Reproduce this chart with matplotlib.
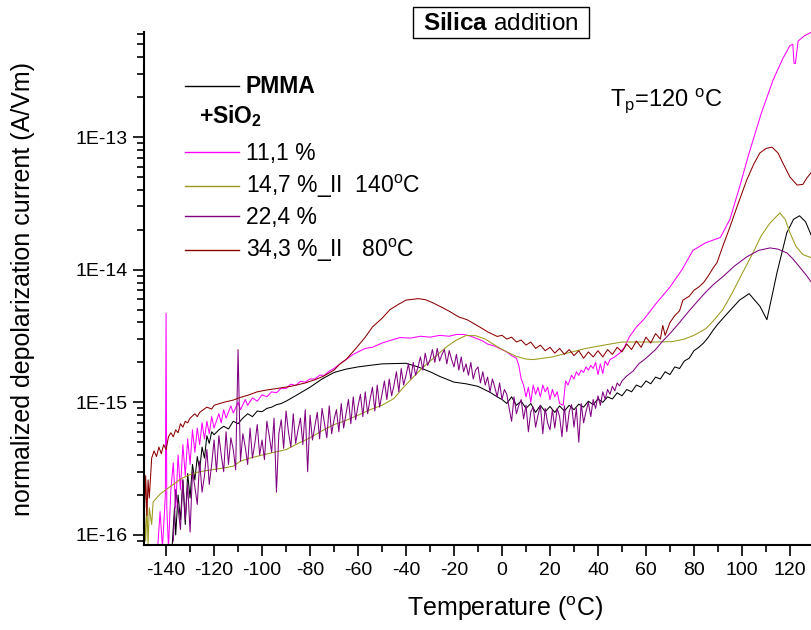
import numpy as np
import matplotlib
matplotlib.use("Agg")
import matplotlib.pyplot as plt
from matplotlib.lines import Line2D
from matplotlib.patches import Rectangle
from matplotlib.ticker import MultipleLocator, LogLocator, NullFormatter

plt.rcParams['font.family'] = ['Liberation Sans', 'DejaVu Sans']
plt.rcParams['mathtext.fontset'] = 'custom'
plt.rcParams['mathtext.rm'] = 'Liberation Sans'
plt.rcParams['mathtext.it'] = 'Liberation Sans:italic'
plt.rcParams['mathtext.bf'] = 'Liberation Sans:bold'
plt.rcParams['axes.unicode_minus'] = False

# TSDC depolarization current, temperature (C) vs current (A/Vm)
pmma = [
    (-137.5, 8e-17), (-136.5, 1.6e-16), (-136, 1.0e-16), (-135, 2.0e-16), (-134, 1.3e-16),
    (-133, 2.6e-16), (-132, 1.2e-16), (-131, 2.9e-16), (-130, 1.9e-16), (-129, 3.4e-16),
    (-128, 2.6e-16), (-127, 3.9e-16), (-126, 3.1e-16), (-125, 4.6e-16), (-124, 3.8e-16),
    (-123, 5.6e-16), (-122, 4.9e-16), (-121, 6.0e-16), (-120, 5.7e-16), (-118, 6.2e-16),
    (-116, 6.6e-16), (-114, 6.3e-16), (-112, 7.2e-16), (-110, 6.9e-16), (-108, 7.6e-16),
    (-106, 8.2e-16), (-104, 7.8e-16), (-102, 8.6e-16), (-100, 8.5e-16), (-98, 9.0e-16),
    (-96, 9.2e-16), (-94, 9.6e-16), (-92, 9.8e-16), (-90, 1.02e-15), (-85, 1.15e-15),
    (-80, 1.3e-15), (-75, 1.5e-15), (-70, 1.68e-15), (-65, 1.78e-15), (-60, 1.85e-15),
    (-55, 1.9e-15), (-50, 1.95e-15), (-45, 1.96e-15), (-40, 1.97e-15), (-35, 1.85e-15),
    (-30, 1.7e-15), (-26, 1.57e-15), (-20, 1.42e-15), (-15, 1.38e-15), (-10, 1.32e-15),
    (-5, 1.19e-15), (-2, 1.1e-15), (0, 1.05e-15), (2, 0.98e-15), (4, 1.1e-15),
    (6, 0.95e-15), (8, 1.02e-15), (10, 0.9e-15), (12, 0.98e-15), (14, 0.84e-15),
    (16, 0.95e-15), (18, 0.85e-15), (20, 0.93e-15), (22, 0.84e-15), (24, 0.94e-15),
    (26, 0.86e-15), (28, 0.95e-15), (30, 0.88e-15), (32, 0.97e-15), (34, 0.92e-15),
    (36, 1.02e-15), (38, 0.96e-15), (40, 1.06e-15), (42, 1.0e-15), (44, 1.1e-15),
    (46, 1.06e-15), (48, 1.18e-15), (50, 1.12e-15), (52, 1.25e-15), (54, 1.2e-15),
    (56, 1.35e-15), (58, 1.3e-15), (60, 1.45e-15), (62, 1.38e-15), (64, 1.55e-15),
    (66, 1.5e-15), (68, 1.7e-15), (70, 1.62e-15), (72, 1.85e-15), (74, 1.8e-15),
    (76, 2.05e-15), (78, 2.15e-15), (80, 2.45e-15), (82, 2.6e-15), (84, 2.8e-15),
    (86, 3.1e-15), (88, 3.5e-15), (90, 3.9e-15), (94, 4.7e-15), (99, 5.9e-15),
    (103, 6.6e-15), (107.5, 5.3e-15), (110.4, 4.2e-15), (112.5, 6.3e-15), (114.6, 9.5e-15),
    (118.7, 1.9e-14), (121.5, 2.4e-14), (124, 2.55e-14), (126.5, 2.3e-14), (129, 1.8e-14),
    (131, 1.5e-14),
]

silica_11 = [
    (-143.5, 8e-17), (-142.5, 1.5e-16), (-141.5, 8e-17), (-140.3, 2.0e-16), (-140, 4.7e-15),
    (-139.7, 1.6e-16), (-139, 8e-17), (-138, 2.2e-16), (-137, 3.5e-16), (-136, 1.6e-16),
    (-135, 4.0e-16), (-134, 2.2e-16), (-133, 4.8e-16), (-132, 2.8e-16), (-131, 5.3e-16),
    (-130, 3.4e-16), (-129, 6.2e-16), (-128, 4.2e-16), (-127, 6.4e-16), (-126, 4.8e-16),
    (-125, 7.0e-16), (-124, 5.3e-16), (-123, 7.2e-16), (-122, 5.8e-16), (-121, 7.8e-16),
    (-120, 6.4e-16), (-118, 8.2e-16), (-117, 7.0e-16), (-116, 8.8e-16), (-115, 7.6e-16),
    (-113, 9.4e-16), (-112, 8.3e-16), (-110, 1.0e-15), (-109, 8.8e-16), (-107, 1.05e-15),
    (-106, 9.5e-16), (-104, 1.08e-15), (-102, 1.02e-15), (-100, 1.14e-15), (-98, 1.1e-15),
    (-96, 1.2e-15), (-94, 1.18e-15), (-92, 1.28e-15), (-90, 1.27e-15), (-88, 1.37e-15),
    (-86, 1.34e-15), (-84, 1.44e-15), (-82, 1.42e-15), (-80, 1.5e-15), (-78, 1.5e-15),
    (-76, 1.6e-15), (-74, 1.6e-15), (-72, 1.72e-15), (-70, 1.8e-15), (-67.5, 1.95e-15),
    (-65, 2.1e-15), (-62, 2.3e-15), (-60, 2.4e-15), (-57, 2.55e-15), (-54, 2.6e-15),
    (-50, 2.8e-15), (-46, 2.95e-15), (-42.5, 3.08e-15), (-38, 3.05e-15), (-34, 3.15e-15),
    (-30, 3.1e-15), (-26, 3.2e-15), (-22, 3.15e-15), (-19, 3.25e-15), (-16, 3.25e-15),
    (-13, 3.15e-15), (-10, 3.0e-15), (-8, 2.9e-15), (-6, 2.75e-15), (-3, 2.65e-15),
    (0, 2.5e-15), (2, 2.4e-15), (4, 2.25e-15), (6, 2.15e-15), (7, 1.9e-15),
    (8, 1.5e-15), (9, 1.35e-15), (10, 1.1e-15), (11, 1.3e-15), (12, 1.0e-15),
    (13, 1.35e-15), (14, 1.15e-15), (15, 1.3e-15), (16, 1.1e-15), (17, 1.35e-15),
    (18, 1.2e-15), (19, 1.3e-15), (20, 1.05e-15), (21, 1.25e-15), (22, 1.1e-15),
    (23, 1.2e-15), (24, 0.98e-15), (25.5, 0.95e-15), (26.5, 1.45e-15), (27.5, 1.35e-15),
    (29, 1.6e-15), (30, 1.5e-15), (31, 1.7e-15), (32, 1.6e-15), (33, 1.75e-15),
    (34, 1.68e-15), (35, 1.85e-15), (36, 1.75e-15), (37, 1.9e-15), (38, 1.8e-15),
    (39, 2.0e-15), (40, 1.62e-15), (41, 1.95e-15), (42, 1.65e-15), (43, 2.05e-15),
    (44, 1.9e-15), (45, 2.1e-15), (47, 2.2e-15), (49, 2.35e-15), (51, 2.6e-15),
    (53, 3.1e-15), (56, 3.7e-15), (59, 4.2e-15), (64, 5.5e-15), (70, 7.4e-15),
    (75, 1.0e-14), (79.6, 1.4e-14), (85, 1.6e-14), (91, 1.75e-14), (95, 2.4e-14),
    (99, 4.2e-14), (103, 7.6e-14), (108, 1.5e-13), (113, 2.7e-13), (117, 3.9e-13),
    (120, 4.9e-13), (121.2, 5.0e-13), (121.7, 3.6e-13), (122.3, 3.6e-13), (123.4, 5.3e-13),
    (126, 5.8e-13), (129, 6.2e-13), (131, 6.4e-13),
]

silica_14 = [
    (-149, 1.5e-16), (-148.5, 9e-17), (-148, 1.7e-16), (-147.5, 8.5e-17), (-147, 1.6e-16),
    (-146, 1.2e-16), (-145.4, 1.77e-16), (-144, 1.9e-16), (-142.5, 2.03e-16), (-140, 2.2e-16),
    (-137, 2.4e-16), (-134, 2.64e-16), (-130, 2.85e-16), (-126, 3.0e-16), (-121, 3.1e-16),
    (-116, 3.2e-16), (-112, 3.3e-16), (-109, 3.6e-16), (-105, 3.8e-16), (-100, 4.0e-16),
    (-95, 4.2e-16), (-90, 4.4e-16), (-85, 4.9e-16), (-80, 5.4e-16), (-75, 6.1e-16),
    (-70, 6.8e-16), (-65, 7.3e-16), (-60, 8.0e-16), (-55, 8.8e-16), (-50, 9.5e-16),
    (-45, 1.07e-15), (-41, 1.3e-15), (-37, 1.55e-15), (-33, 1.83e-15), (-28, 2.2e-15),
    (-23, 2.63e-15), (-19, 2.95e-15), (-15, 3.19e-15), (-11, 3.18e-15), (-7, 3.0e-15),
    (-2, 2.63e-15), (2, 2.4e-15), (6, 2.22e-15), (10, 2.12e-15), (13, 2.1e-15),
    (17, 2.15e-15), (21, 2.2e-15), (25, 2.3e-15), (30, 2.42e-15), (35, 2.55e-15),
    (40, 2.65e-15), (45, 2.75e-15), (50, 2.85e-15), (57, 2.85e-15), (64, 2.85e-15),
    (71, 2.87e-15), (76, 3.0e-15), (80, 3.2e-15), (85, 3.6e-15), (88, 4.1e-15),
    (92, 5.0e-15), (96, 6.7e-15), (100, 9.3e-15), (104.6, 1.34e-14), (108, 1.8e-14),
    (111.7, 2.25e-14), (115.8, 2.68e-14), (118, 2.4e-14), (120, 1.9e-14), (122.5, 1.5e-14),
    (125.4, 1.3e-14), (129, 1.23e-14), (131, 1.2e-14),
]

# 22,4 % sample: 1 C steps over the noisy range, then the smooth high-T part
silica_22_T = np.arange(-137, 51)
silica_22_I = [
    0.9e-16, 2.2e-16, 1.6e-16, 1.1e-16, 2.6e-16, 1.3e-16, 2.4e-16, 1.05e-16, 3.0e-16, 2.3e-16,
    1.7e-16, 3.6e-16, 2.1e-16, 2.8e-16, 4.4e-16, 2.4e-16, 3.4e-16, 5.2e-16, 3.0e-16, 5.6e-16,
    4.0e-16, 3.0e-16, 6.0e-16, 3.4e-16, 5.4e-16, 4.4e-16, 3.1e-16, 2.5e-15, 3.6e-16, 5.8e-16,
    4.6e-16, 3.4e-16, 6.4e-16, 3.8e-16, 4.9e-16, 6.8e-16, 4.0e-16, 5.2e-16, 3.7e-16, 7.2e-16,
    5.6e-16, 4.2e-16, 7.6e-16, 2.1e-16, 5.8e-16, 7.4e-16, 4.5e-16, 8.6e-16, 6.0e-16, 4.6e-16,
    8.2e-16, 4.9e-16, 6.2e-16, 7.6e-16, 4.8e-16, 8.8e-16, 3.0e-16, 8.0e-16, 5.2e-16, 6.6e-16,
    8.4e-16, 5.3e-16, 9.0e-16, 7.0e-16, 5.4e-16, 9.4e-16, 5.8e-16, 7.4e-16, 8.8e-16, 6.0e-16,
    9.8e-16, 6.4e-16, 8.2e-16, 1.05e-15, 6.9e-16, 1.1e-15, 7.4e-16, 9.4e-16, 1.15e-15, 7.8e-16,
    1.2e-15, 8.2e-16, 1.05e-15, 1.3e-15, 8.6e-16, 1.35e-15, 9.2e-16, 1.15e-15, 1.45e-15, 1.05e-15,
    1.5e-15, 1.12e-15, 1.35e-15, 1.7e-15, 1.2e-15, 1.8e-15, 1.35e-15, 1.6e-15, 1.95e-15, 1.5e-15,
    2.0e-15, 1.6e-15, 1.85e-15, 2.2e-15, 1.75e-15, 2.35e-15, 1.9e-15, 2.1e-15, 2.5e-15, 2.0e-15,
    2.55e-15, 2.05e-15, 2.3e-15, 2.5e-15, 1.95e-15, 2.45e-15, 2.1e-15, 1.85e-15, 2.3e-15, 1.75e-15,
    2.2e-15, 1.7e-15, 1.95e-15, 1.6e-15, 2.0e-15, 1.5e-15, 1.75e-15, 1.85e-15, 1.4e-15, 1.7e-15,
    1.35e-15, 1.55e-15, 1.2e-15, 1.5e-15, 1.3e-15, 1.1e-15, 1.4e-15, 1.05e-15, 1.25e-15, 1.15e-15,
    0.9e-15, 0.72e-15, 1.1e-15, 0.82e-15, 0.95e-15, 1.05e-15, 0.75e-15, 0.95e-15, 0.6e-15, 0.85e-15,
    0.92e-15, 0.65e-15, 0.8e-15, 0.95e-15, 0.58e-15, 0.9e-15, 0.7e-15, 0.62e-15, 0.88e-15, 0.64e-15,
    0.9e-15, 0.78e-15, 0.55e-15, 0.94e-15, 0.6e-15, 0.85e-15, 0.96e-15, 0.65e-15, 0.9e-15, 0.5e-15,
    0.98e-15, 0.7e-15, 0.85e-15, 1.0e-15, 0.78e-15, 1.05e-15, 0.9e-15, 1.12e-15, 0.95e-15, 1.2e-15,
    1.05e-15, 1.25e-15, 1.15e-15, 1.32e-15, 1.22e-15, 1.4e-15, 1.33e-15, 1.45e-15,
]
silica_22_tail = [
    (52, 1.58e-15), (54.6, 1.72e-15), (57, 1.95e-15), (60, 2.15e-15), (64, 2.5e-15),
    (67, 2.9e-15), (70, 3.3e-15), (74, 4.0e-15), (78, 4.9e-15), (81, 5.65e-15),
    (85, 6.8e-15), (88, 7.7e-15), (92, 8.85e-15), (97, 1.07e-14), (102, 1.25e-14),
    (107, 1.4e-14), (111.7, 1.46e-14), (115, 1.43e-14), (118.7, 1.34e-14), (121, 1.22e-14),
    (124, 1.05e-14), (127, 9.0e-15), (129, 8.0e-15), (131, 7.4e-15),
]

silica_34 = [
    (-149, 1.5e-16), (-148.5, 2.8e-16), (-148, 1.4e-16), (-147.5, 2.6e-16), (-147, 1.9e-16),
    (-146, 3.8e-16), (-145, 4.3e-16), (-144, 3.9e-16), (-143, 4.6e-16), (-142, 4.1e-16),
    (-141, 4.8e-16), (-140, 4.4e-16), (-139, 5.5e-16), (-138, 5.9e-16), (-137, 5.5e-16),
    (-136, 6.2e-16), (-135, 5.9e-16), (-134, 6.9e-16), (-133, 6.5e-16), (-132, 7.2e-16),
    (-131, 7.0e-16), (-130, 7.6e-16), (-128, 8.2e-16), (-127, 7.8e-16), (-126, 8.4e-16),
    (-123, 9.2e-16), (-121, 8.9e-16), (-120, 9.5e-16), (-116, 1.0e-15), (-112, 1.04e-15),
    (-109, 1.09e-15), (-106, 1.13e-15), (-102, 1.2e-15), (-98, 1.24e-15), (-94, 1.27e-15),
    (-88, 1.32e-15), (-82, 1.4e-15), (-78, 1.48e-15), (-74.5, 1.57e-15), (-70, 1.75e-15),
    (-67.5, 1.95e-15), (-65, 2.1e-15), (-60.5, 2.6e-15), (-57, 3.1e-15), (-54, 3.7e-15),
    (-50, 4.3e-15), (-46.7, 5.0e-15), (-43, 5.5e-15), (-40, 5.9e-15), (-35, 6.05e-15),
    (-32, 5.95e-15), (-29, 5.65e-15), (-25, 5.2e-15), (-21.7, 4.83e-15), (-18, 4.4e-15),
    (-14.6, 4.2e-15), (-12, 3.95e-15), (-9, 3.67e-15), (-6, 3.4e-15), (-2, 3.14e-15),
    (0, 3.2e-15), (2, 3.0e-15), (4, 3.1e-15), (6, 2.85e-15), (8, 2.95e-15),
    (10, 2.7e-15), (12, 2.85e-15), (14, 2.55e-15), (16, 2.7e-15), (18, 2.45e-15),
    (20, 2.6e-15), (22, 2.35e-15), (24, 2.55e-15), (26, 2.3e-15), (28, 2.5e-15),
    (30, 2.25e-15), (32, 2.45e-15), (34, 2.15e-15), (36, 2.4e-15), (38, 2.2e-15),
    (40, 2.45e-15), (42, 2.2e-15), (44, 2.5e-15), (46, 2.3e-15), (48, 2.6e-15),
    (50, 2.4e-15), (52, 2.75e-15), (54, 2.5e-15), (56, 2.9e-15), (58, 2.6e-15),
    (60, 3.1e-15), (62, 2.8e-15), (64, 3.3e-15), (66, 3.0e-15), (67, 3.8e-15),
    (68, 3.2e-15), (70, 4.0e-15), (72, 4.5e-15), (74, 4.9e-15), (75.4, 5.9e-15),
    (78, 6.3e-15), (80, 7.0e-15), (82, 7.4e-15), (84, 8.0e-15), (86, 9.0e-15),
    (88, 1.03e-14), (89.6, 1.13e-14), (92, 1.5e-14), (95, 2.1e-14), (98, 3.0e-14),
    (102, 4.75e-14), (105, 6.3e-14), (107.5, 7.6e-14), (110, 8.2e-14), (112.5, 8.4e-14),
    (115, 7.6e-14), (117, 6.4e-14), (120, 5.0e-14), (123, 4.35e-14), (125.4, 4.4e-14),
    (127, 4.9e-14), (129, 5.45e-14), (131, 6.0e-14),
]

labels = ['PMMA', '11,1 %', r'14,7 %_II  140$^{\rm o}$C', '22,4 %', r'34,3 %_II   80$^{\rm o}$C']
colors = ['black', '#ff00ff', '#9a9a1a', '#800080', '#8b0000']
x_ticks = [-140, -120, -100, -80, -60, -40, -20, 0, 20, 40, 60, 80, 100, 120]
y_ticks = [1e-16, 1e-15, 1e-14, 1e-13]
y_ticklabels = ['1E-16', '1E-15', '1E-14', '1E-13']

W, H = 812, 630
fig = plt.figure(figsize=(W / 100, H / 100), dpi=100)
# axis runs on past the right edge of the image (to ~150 C)
ax = fig.add_axes([144 / W, 1 - 545 / H, (866 - 144) / W, (545 - 32) / H])


def px(x, y):
    return x / W, 1 - y / H


series = [
    np.array(pmma).T,
    np.array(silica_11).T,
    np.array(silica_14).T,
    np.concatenate([np.vstack([silica_22_T, silica_22_I]), np.array(silica_22_tail).T], axis=1),
    np.array(silica_34).T,
]
for (t, i), c in zip(series, colors):
    ax.plot(t, i, color=c, lw=0.75)

ax.set_yscale('log')
ax.set_xlim(-149.2, 151.7)
ax.set_ylim(8.4e-17, 6.2e-13)

ax.set_xticks(x_ticks)
ax.xaxis.set_minor_locator(MultipleLocator(10))
ax.set_yticks(y_ticks, y_ticklabels)
ax.yaxis.set_minor_locator(LogLocator(base=10, subs=np.arange(2, 10)))
ax.yaxis.set_minor_formatter(NullFormatter())

for s in ['top', 'right']:
    ax.spines[s].set_visible(False)
for s in ['left', 'bottom']:
    ax.spines[s].set_linewidth(1.5)
ax.tick_params(which='major', direction='out', length=8, width=1.2, labelsize=14, pad=4)
ax.tick_params(which='minor', direction='out', length=5, width=1.2)

ax.set_xlabel(r'Temperature ($^{\rm o}$C)', fontsize=18)
ax.set_ylabel('normalized depolarization current (A/Vm)', fontsize=18)
ax.xaxis.set_label_coords(0.5, -0.097)
ax.yaxis.set_label_coords(-0.151, 0.5)

# boxed heading
fig.patches.append(Rectangle(px(413, 38), 176 / W, 31 / H, transform=fig.transFigure,
                             fill=False, lw=1.0, ec='black'))
fig.text(*px(501, 30), r'$\mathbf{Silica}$ addition', fontsize=17.5, ha='center', va='baseline')

fig.text(*px(610, 106), r'T$_{\rm p}$=120 $^{\rm o}$C', fontsize=17, va='baseline')

# legend drawn by hand
line_y = [86, 152, 186, 216, 250]
text_y = [93, 160, 193, 224, 257]
for ly, ty, lab, c in zip(line_y, text_y, labels, colors):
    fig.add_artist(Line2D([185 / W, 239 / W], [1 - ly / H, 1 - ly / H], color=c, lw=1.0,
                          transform=fig.transFigure))
    weight = 'bold' if lab == 'PMMA' else 'normal'
    fig.text(*px(246, ty), lab, fontsize=16.5, va='baseline', fontweight=weight)
fig.text(*px(199, 123), r'$\mathbf{+SiO_2}$', fontsize=16.5, va='baseline')

fig.savefig('out.png', dpi=100)
